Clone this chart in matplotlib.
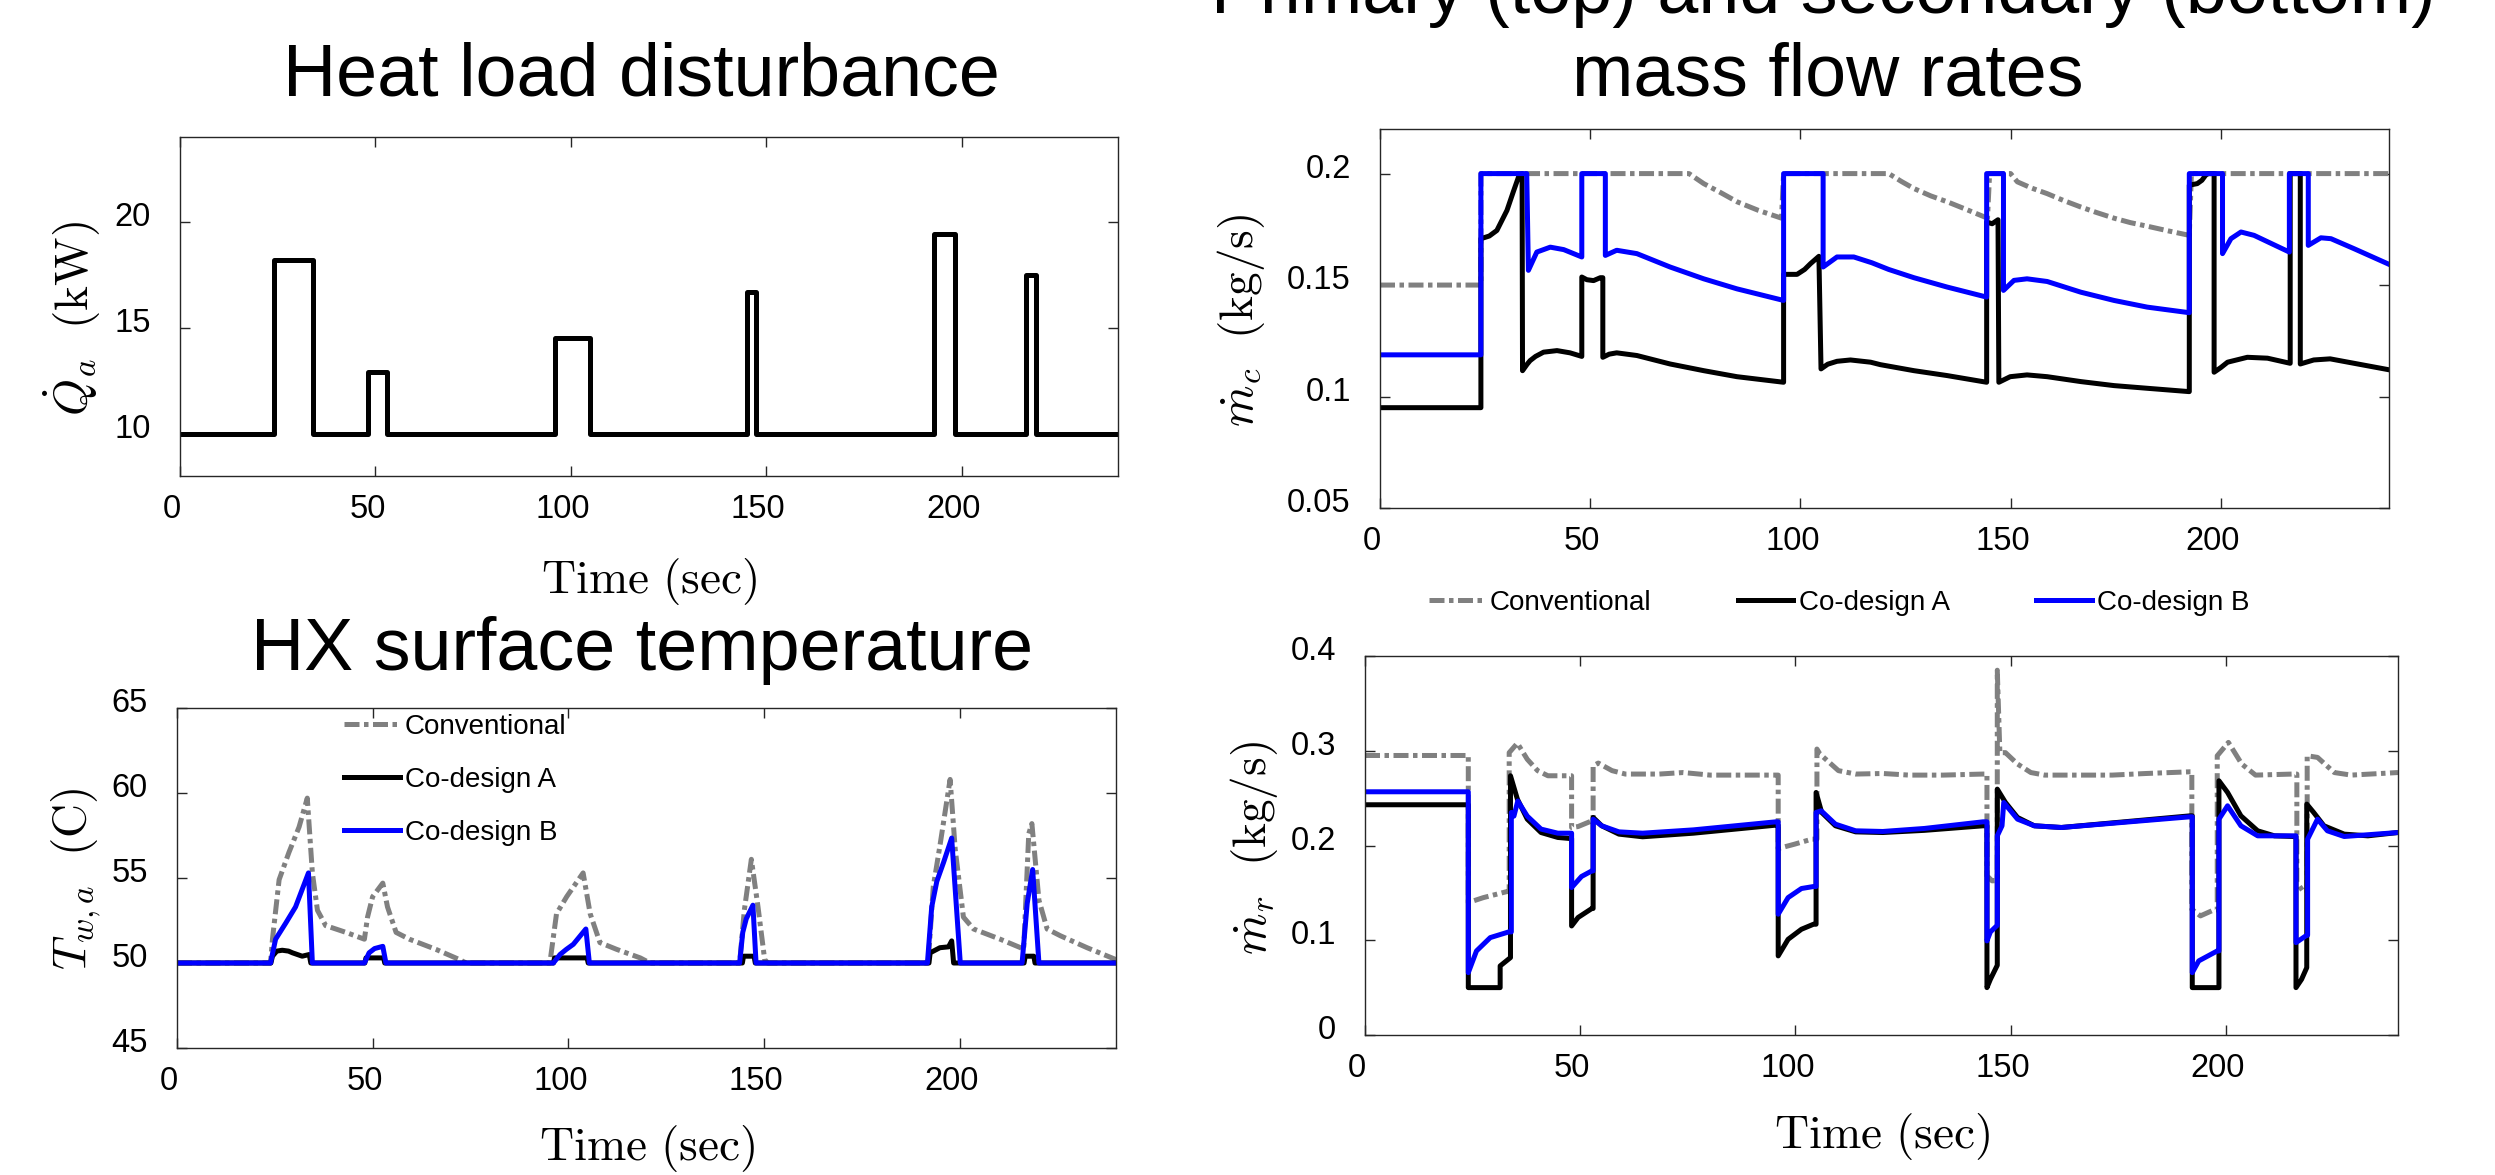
import numpy as np
import matplotlib
matplotlib.use('Agg')
import matplotlib.pyplot as plt
import matplotlib.transforms as mtransforms

plt.rcParams['font.family'] = ['Liberation Sans', 'DejaVu Sans']
plt.rcParams['mathtext.fontset'] = 'cm'

# ---------------- data ----------------
# heat load disturbance, kW (step signal)
q_t = [0, 24, 34, 48, 53, 96, 105, 145, 147.5, 193, 198.3, 216.5, 219, 240]
q_v = [10, 18.2, 10, 12.9, 10, 14.5, 10, 16.7, 10, 19.4, 10, 17.5, 10, 10]

# primary mass flow rate m_c (kg/s)
mc_conv_t = [0, 24, 24, 73.5, 77, 81, 85, 90, 95.5, 96, 121, 124, 127, 131, 135, 140, 144.5,
             145, 150, 151.6, 155, 158.7, 162.5, 166.7, 170.5, 174.6, 178.5, 182.5, 187, 192.5, 193, 240]
mc_conv_v = [0.15, 0.15, 0.2, 0.2, 0.1955, 0.1915, 0.1873, 0.1835, 0.180, 0.2, 0.2, 0.1965, 0.1933, 0.19,
             0.1873, 0.1835, 0.180, 0.2, 0.2, 0.1963, 0.1935, 0.191, 0.188, 0.185, 0.1825, 0.180, 0.178,
             0.1764, 0.1745, 0.1723, 0.2, 0.2]

mc_a_t = [0, 24, 24, 26, 27.8, 29, 30.2, 31.7, 33.1, 33.8, 33.9, 35, 35.7, 37, 38.9, 42.1, 45.2, 48,
          48, 49.2, 50.8, 52.4, 53, 53, 54.5, 56.3, 61.1, 69, 77, 84.9, 96,
          96, 99.2, 101, 102.4, 104.4, 104.9, 106.5, 108.7, 111.9, 116.7, 119, 127, 134.9, 144.3,
          144.3, 145.6, 147, 147.2, 149.9, 153.9, 158.7, 166.7, 174.6, 182.5, 192.5,
          192.5, 194.4, 195.5, 196.4, 197, 198.4, 198.4, 200, 201.6, 206.3, 211.1, 216.5,
          216.5, 218.9, 218.9, 220.5, 222.1, 226, 231.7, 240]
mc_a_v = [0.095, 0.095, 0.1708, 0.172, 0.1745, 0.179, 0.1835, 0.1918, 0.1993, 0.2, 0.1116, 0.1145,
          0.1161, 0.118, 0.1199, 0.1206, 0.1196, 0.118,
          0.1536, 0.1524, 0.152, 0.1533, 0.1533, 0.1176, 0.119, 0.1196, 0.1184, 0.1146, 0.1116, 0.1089, 0.1064,
          0.1548, 0.1548, 0.157, 0.1596, 0.1629, 0.1124, 0.1145, 0.1158, 0.1164, 0.1154, 0.1143, 0.1116,
          0.1094, 0.1064,
          0.1783, 0.1775, 0.1793, 0.1064, 0.1089, 0.1097, 0.1089, 0.1067, 0.1049, 0.1037, 0.1022,
          0.1948, 0.1955, 0.197, 0.1993, 0.2, 0.2, 0.1109, 0.113, 0.1154, 0.1176, 0.1172, 0.1149,
          0.2, 0.2, 0.1146, 0.1155, 0.1164, 0.1169, 0.1149, 0.112]

mc_b_t = [0, 24, 24, 34.9, 35.3, 37.3, 40.5, 43.7, 48, 48, 53.6, 53.6, 56.3, 61.1, 69, 77, 84.9, 96,
          96, 105.4, 105.4, 108.7, 112.7, 117, 121, 127, 134.9, 144.3,
          144.3, 148.3, 148.3, 150.8, 153.9, 158.7, 166.7, 174.6, 182.5, 192.5,
          192.5, 200.4, 200.4, 202.4, 204.8, 207.9, 216.3, 216.3, 220.8, 220.8, 223.8, 226.2, 231.7, 240]
mc_b_v = [0.1187, 0.1187, 0.2, 0.2, 0.1566, 0.1648, 0.167, 0.1659, 0.1626, 0.2, 0.2, 0.1633, 0.1656,
          0.1641, 0.1581, 0.1528, 0.1483, 0.1431,
          0.2, 0.2, 0.1581, 0.1626, 0.1626, 0.160, 0.157, 0.1533, 0.1491, 0.1446,
          0.2, 0.2, 0.1476, 0.1521, 0.1528, 0.1516, 0.1468, 0.1431, 0.1401, 0.1376,
          0.2, 0.2, 0.1641, 0.1708, 0.1738, 0.1723, 0.1648, 0.2, 0.2, 0.1678, 0.1712, 0.1708, 0.1663, 0.1593]

# HX surface temperature T_w,a (C)
tw_conv_t = [0, 23.9, 24.4, 26.1, 28.6, 31.2, 33.3, 34.6, 35.9, 38, 43.2, 47.9, 48.7, 50, 52.6, 53.8,
             56, 59.4, 66.2, 72.2, 73.9, 95.3, 97, 99.6, 103.8, 105.6, 108.1, 112.4, 118.4, 120.9,
             143.8, 145, 146.8, 148.5, 150.2, 151, 192, 193.3, 195, 197.6, 198.9, 201, 203.6, 210.4,
             215.6, 216.4, 217.7, 218.5, 220.3, 222.4, 225.8, 232.6, 240]
tw_conv_v = [50, 50, 51.4, 54.9, 56.5, 58, 59.7, 55.3, 53.1, 52.2, 51.8, 51.4, 52.7, 53.9, 54.7, 53.3,
             51.8, 51.4, 50.8, 50.2, 50, 50, 52.9, 53.9, 55.3, 52.9, 51.2, 50.8, 50.3, 50,
             50, 53.1, 56.1, 53.3, 50.2, 50, 50, 54.5, 56.9, 60.8, 56.7, 52.7, 52, 51.4,
             50.9, 50.8, 57.6, 58.2, 53.7, 52, 51.6, 50.9, 50.2]

tw_a_t = [0, 24, 24.4, 25.5, 26.9, 28.5, 29.5, 32, 33.8, 34.2, 48, 48.3, 52.8, 53.1, 96.2, 96.5, 104.8,
          105.1, 144.5, 144.8, 147.5, 147.8, 192.2, 192.5, 195, 197.2, 198, 198.5, 216.5, 216.8, 219,
          219.3, 240]
tw_a_v = [50, 50, 50.4, 50.7, 50.75, 50.7, 50.6, 50.4, 50.5, 50, 50, 50.3, 50.3, 50, 50, 50.3, 50.3,
          50, 50, 50.4, 50.4, 50, 50, 50.6, 50.9, 50.95, 51.3, 50, 50, 50.4, 50.4, 50, 50]

tw_b_t = [0, 23.9, 25.2, 27.8, 30.3, 33.6, 34.6, 47.9, 49.1, 50.5, 52.6, 53.4, 96.2, 97.9, 99.5, 101.3,
          104.5, 105.4, 143.8, 144.6, 145.5, 147.2, 148, 191.8, 192.9, 194.2, 195.9, 198, 200.2, 216,
          217.3, 218.7, 220.3, 240]
tw_b_v = [50, 50, 51.4, 52.35, 53.3, 55.3, 50, 50, 50.6, 50.85, 50.98, 50, 50, 50.5, 50.8, 51.1,
          52, 50, 50, 51.8, 52.6, 53.4, 50, 50, 53.3, 54.8, 55.9, 57.35, 50, 50, 53.5, 55.5, 50, 50]

# secondary mass flow rate m_r (kg/s)
mr_conv_t = [0, 24, 24, 27.5, 33, 33.5, 33.5, 35.4, 37.7, 40.1, 42.5, 47.6, 48, 48, 49.5, 52.7, 53,
             53, 54.2, 57.4, 60.5, 68.4, 73.9, 80.2, 95.5, 96, 96, 99.8, 103.8, 105, 105, 105.7, 110,
             114, 120.3, 126.4, 134.3, 143.5, 144.5, 144.5, 145.7, 146.9, 146.9, 147.5, 148.8, 151.6,
             154.7, 157.9, 173.6, 181.5, 191.7, 192.1, 192.1, 194.1, 197.2, 198, 198, 200.6, 203.7,
             206.9, 215.5, 216.5, 216.5, 218.2, 218.9, 218.9, 221.3, 225.2, 229.1, 240]
mr_conv_v = [0.295, 0.295, 0.1398, 0.145, 0.1514, 0.1514, 0.298, 0.308, 0.291, 0.279, 0.2736, 0.2736,
             0.2736, 0.219, 0.220, 0.226, 0.226, 0.284, 0.287, 0.279, 0.2754, 0.2754, 0.277, 0.2743,
             0.2743, 0.2743, 0.1968, 0.2014, 0.2067, 0.2067, 0.3018, 0.2965, 0.279, 0.2754, 0.276,
             0.2743, 0.2743, 0.2754, 0.2754, 0.168, 0.1627, 0.163, 0.385, 0.298, 0.298, 0.286, 0.277,
             0.2743, 0.2743, 0.276, 0.2778, 0.2778, 0.1327, 0.1257, 0.132, 0.132, 0.2947, 0.3088, 0.286,
             0.2743, 0.2754, 0.2754, 0.161, 0.150, 0.150, 0.2947, 0.293, 0.277, 0.2743, 0.277]

mr_a_t = [0, 24, 24, 31.4, 31.4, 33.8, 33.8, 35.4, 37.7, 40.9, 44.8, 47.6, 48, 48, 49.5, 52.7, 53, 53,
          55, 59, 64.5, 76.3, 95.5, 96, 96, 98.3, 101.4, 104.2, 104.8, 104.8, 106.1, 109.3, 114, 120.3,
          130, 143.6, 144.5, 144.5, 145.3, 146.9, 146.9, 148.8, 151.6, 155.5, 161.8, 191.7, 192.2,
          192.2, 198.4, 198.4, 200.4, 203.5, 207.4, 211.3, 215.9, 216.3, 216.3, 217.6, 218.8, 218.8,
          220.4, 222.8, 227.5, 233, 240]
mr_a_v = [0.243, 0.243, 0.05, 0.05, 0.0729, 0.0817, 0.2736, 0.249, 0.2278, 0.2137, 0.2085, 0.2074,
          0.2074, 0.1151, 0.124, 0.1335, 0.1335, 0.2296, 0.2208, 0.212, 0.2092, 0.213, 0.2215, 0.2215,
          0.0835, 0.101, 0.1116, 0.1169, 0.1169, 0.256, 0.2349, 0.2208, 0.2144, 0.2137, 0.216, 0.2208,
          0.2208, 0.05, 0.0588, 0.0736, 0.2595, 0.2454, 0.2296, 0.2208, 0.219, 0.2313, 0.2313, 0.05,
          0.05, 0.2683, 0.256, 0.2313, 0.2155, 0.2102, 0.2095, 0.2095, 0.05, 0.0588, 0.0711, 0.2437,
          0.2349, 0.2208, 0.212, 0.2102, 0.2137]

mr_b_t = [0, 24, 24, 25.9, 29.1, 33.4, 34, 34, 34.6, 35.5, 37.7, 40.9, 44.8, 47.6, 48, 48, 50.3, 52.7,
          53, 53, 55, 59, 64.5, 76.3, 95.5, 96, 96, 98.3, 101.4, 104.2, 104.8, 104.8, 106, 109.3, 114,
          120.3, 130, 143.6, 144.5, 144.5, 145.3, 146.9, 146.9, 148, 148.4, 151.6, 155.5, 161.8, 191.7,
          192.2, 192.2, 193.7, 198, 198.4, 198.4, 200.4, 203.5, 207.4, 215.9, 216.3, 216.3, 218.8, 219,
          219, 221.3, 223.6, 227.5, 240]
mr_b_v = [0.2567, 0.2567, 0.0658, 0.0887, 0.1028, 0.1088, 0.1088, 0.2349, 0.231, 0.247, 0.231, 0.2173,
          0.213, 0.213, 0.213, 0.1556, 0.1673, 0.1732, 0.1732, 0.2278, 0.2208, 0.2144, 0.213, 0.2165,
          0.225, 0.225, 0.1275, 0.145, 0.1546, 0.1567, 0.1567, 0.2349, 0.2366, 0.2225, 0.2155, 0.2148,
          0.218, 0.225, 0.225, 0.0993, 0.1088, 0.1158, 0.2102, 0.2208, 0.2454, 0.2278, 0.2208, 0.219,
          0.2303, 0.2303, 0.0658, 0.0782, 0.0887, 0.0887, 0.2278, 0.2419, 0.2208, 0.2102, 0.2102,
          0.2102, 0.0975, 0.1053, 0.1053, 0.2067, 0.2278, 0.2155, 0.2095, 0.2137]

time_ticks = [0, 50, 100, 150, 200]
q_ticks = [10, 15, 20]
mc_ticks = [0.05, 0.1, 0.15, 0.2]
mc_ticklabels = ['0.05', '0.1', '0.15', '0.2']
tw_ticks = [45, 50, 55, 60, 65]
mr_ticks = [0, 0.1, 0.2, 0.3, 0.4]
mr_ticklabels = ['0', '0.1', '0.2', '0.3', '0.4']

series_names = ['Conventional', 'Co-design A', 'Co-design B']

# ---------------- styling ----------------
W, H = 2495, 1175
fig = plt.figure(figsize=(W / 100, H / 100), dpi=100)

gray = '#808080'
lw = 3.6
dashdot = (0, (3.0, 0.9, 0.9, 0.9))
tick_fs = 23.5
label_fs = 34
title_fs = 53


def px_axes(left, top, right, bottom):
    return fig.add_axes([left / W, 1 - bottom / H, (right - left) / W, (bottom - top) / H])


def style(ax, yticks, yticklabels=None):
    ax.set_xlim(0, 240)
    ax.set_xticks(time_ticks)
    ax.set_xticklabels([str(t) for t in time_ticks])
    ax.set_yticks(yticks)
    if yticklabels is not None:
        ax.set_yticklabels(yticklabels)
    ax.tick_params(direction='in', top=True, right=True, length=7.5, width=1.0,
                   color='#262626', labelsize=tick_fs)
    ax.tick_params(axis='y', pad=21)
    ax.tick_params(axis='x', pad=13)
    for s in ax.spines.values():
        s.set_color('#262626')
        s.set_linewidth(1.0)
    dx = mtransforms.ScaledTranslation(-8 / 100, 0, fig.dpi_scale_trans)
    dy = mtransforms.ScaledTranslation(0, 8 / 100, fig.dpi_scale_trans)
    for lab in ax.get_xticklabels():
        lab.set_transform(lab.get_transform() + dx)
    for lab in ax.get_yticklabels():
        lab.set_transform(lab.get_transform() + dy)


def labels(ax, xlabel, xl_y, ylabel, yl_x, yl_y):
    if xlabel:
        ax.set_xlabel(xlabel, fontsize=label_fs)
        ax.xaxis.label.set_va('center')
        ax.xaxis.set_label_coords(0.5, xl_y)
    ax.set_ylabel(ylabel, fontsize=label_fs)
    ax.yaxis.label.set_va('center')
    ax.yaxis.label.set_ha('center')
    ax.yaxis.set_label_coords(yl_x, yl_y)


def three(ax, conv, a, b):
    h1, = ax.plot(conv[0], conv[1], color=gray, lw=lw, ls=dashdot, label=series_names[0])
    h2, = ax.plot(a[0], a[1], color='k', lw=lw, label=series_names[1])
    h3, = ax.plot(b[0], b[1], color='#0000ff', lw=lw, label=series_names[2])
    return [h1, h2, h3]


# panel 1: heat load
ax1 = px_axes(180, 137, 1118, 476)
ax1.step(q_t, q_v, where='post', color='k', lw=lw)
ax1.set_ylim(8, 24)
style(ax1, q_ticks)
labels(ax1, r'$\mathrm{Time\ (sec)}$', -0.31, r'$\dot{Q}_a\ \ (\mathrm{kW})$', -0.115, 0.466)

# panel 2: primary flow
ax2 = px_axes(1380, 129, 2389, 508)
three(ax2, (mc_conv_t, mc_conv_v), (mc_a_t, mc_a_v), (mc_b_t, mc_b_v))
ax2.set_ylim(0.05, 0.22)
style(ax2, mc_ticks, mc_ticklabels)
labels(ax2, None, 0, r'$\dot{m}_c\ \ (\mathrm{kg/s})$', -0.138, 0.496)

# panel 3: surface temperature
ax3 = px_axes(177, 708, 1116, 1048)
h = three(ax3, (tw_conv_t, tw_conv_v), (tw_a_t, tw_a_v), (tw_b_t, tw_b_v))
ax3.set_ylim(45, 65)
style(ax3, tw_ticks)
labels(ax3, r'$\mathrm{Time\ (sec)}$', -0.297, r'$T_{w,a}\ \ (\mathrm{C})$', -0.1076, 0.497)
ax3.legend(handles=h, loc='upper left', bbox_to_anchor=(344 / W, 1 - 714 / H),
           bbox_transform=fig.transFigure, frameon=False, fontsize=20, handlelength=2.0,
           handletextpad=0.2, labelspacing=0.97, borderpad=0, borderaxespad=0)

# panel 4: secondary flow
ax4 = px_axes(1365, 656, 2398, 1035)
h = three(ax4, (mr_conv_t, mr_conv_v), (mr_a_t, mr_a_v), (mr_b_t, mr_b_v))
ax4.set_ylim(0, 0.4)
style(ax4, mr_ticks, mr_ticklabels)
labels(ax4, r'$\mathrm{Time\ (sec)}$', -0.268, r'$\dot{m}_r\ \ (\mathrm{kg/s})$', -0.1075, 0.493)
ax4.legend(handles=h, loc='center left', bbox_to_anchor=(1429 / W, 1 - 603 / H),
           bbox_transform=fig.transFigure, frameon=False, fontsize=20, ncol=3, handlelength=2.0,
           handletextpad=0.2, columnspacing=3.1, borderpad=0, borderaxespad=0)

# titles
fig.text(641 / W, 1 - 95 / H, 'Heat load disturbance', ha='center', va='baseline', fontsize=title_fs)
fig.text(642 / W, 1 - 670 / H, 'HX surface temperature', ha='center', va='baseline', fontsize=title_fs)
fig.text(1823 / W, 1 - 13 / H, 'Primary (top) and secondary (bottom)', ha='center', va='baseline',
         fontsize=title_fs)
fig.text(1828 / W, 1 - 95 / H, 'mass flow rates', ha='center', va='baseline', fontsize=title_fs)

fig.savefig('out.png', dpi=100)
